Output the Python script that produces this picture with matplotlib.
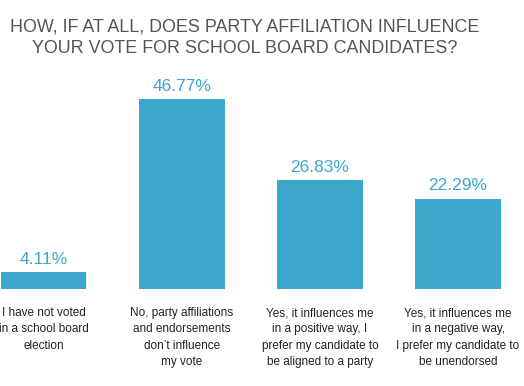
import matplotlib.pyplot as plt

plt.rcParams["font.family"] = ["Liberation Sans", "DejaVu Sans"]

categories = [
    "I have not voted\nin a school board\nelection",
    "No, party affiliations\nand endorsements\ndon\u2019t influence\nmy vote",
    "Yes, it influences me\nin a positive way, I\nprefer my candidate to\nbe aligned to a party",
    "Yes, it influences me\nin a negative way,\nI prefer my candidate to\nbe unendorsed",
]
percentages = [4.11, 46.77, 26.83, 22.29]

bar_color = "#3BA7CD"
W, H = 524, 386

fig = plt.figure(figsize=(W / 100, H / 100), dpi=100)
ax = fig.add_axes([0, 1 - 289 / H, 1, 203 / H])

x = list(range(len(percentages)))
ax.bar(x, percentages, width=0.62, color=bar_color, edgecolor="none")
ax.set_xlim(-43.5 / 138.2, (W - 43.5) / 138.2)
ax.set_ylim(0, 50)
ax.axis("off")

for xi, v in zip(x, percentages):
    ax.annotate(f"{v:.2f}%", (xi, v), xytext=(0, 4), textcoords="offset points",
                ha="center", va="bottom", fontsize=12.5, color=bar_color)

for xi, lab in zip(x, categories):
    ax.annotate(lab, (xi, 0), xytext=(0, -13), textcoords="offset points",
                ha="center", va="top", fontsize=8.5, color="#222222",
                linespacing=1.47)

fig.text(245 / W, 1 - 37.5 / H,
         "HOW, IF AT ALL, DOES PARTY AFFILIATION INFLUENCE\nYOUR VOTE FOR SCHOOL BOARD CANDIDATES?",
         ha="center", va="center", fontsize=12.9, color="#555555", linespacing=1.32)

fig.savefig("out.png", dpi=100)
